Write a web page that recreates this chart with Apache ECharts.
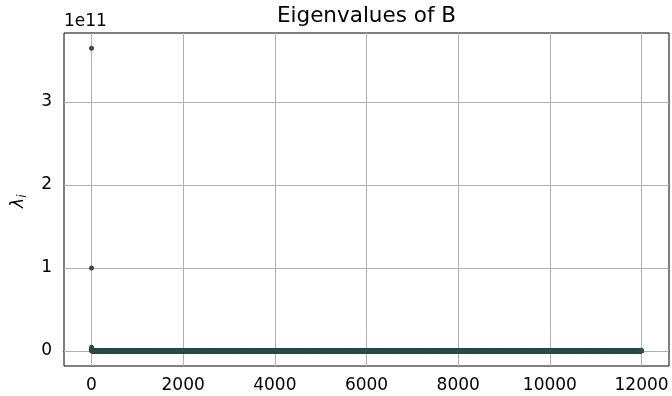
<!DOCTYPE html>
<html>
<head>
<meta charset="utf-8">
<script src="https://cdn.jsdelivr.net/npm/echarts@6/dist/echarts.min.js"></script>
<style>
  html, body { margin: 0; padding: 0; background: #fff; }
  #chart { width: 672px; height: 396px; }
</style>
</head>
<body>
<div id="chart"></div>
<script>
// Largest eigenvalues, in index order; every later eigenvalue sits at ~0 on this scale
const leadingEigenvalues = [3.65e11, 1.0e11, 4.5e9, 2.2e9, 1.5e9, 1.1e9, 8.0e8, 6.0e8];
const eigenvalueCount = 12000;
const trailingEigenvalue = 0;

// Axis ticks and limits
const xTicks = [0, 2000, 4000, 6000, 8000, 10000, 12000];
const yTicks = [0, 1e11, 2e11, 3e11];
const xLimits = [-600, 12599];
const yLimits = [-0.1825e11, 3.8325e11];
const yScaleExponent = 11;

const points = [];
for (let i = 0; i < eigenvalueCount; i++) {
  const v = i < leadingEigenvalues.length ? leadingEigenvalues[i] : trailingEigenvalue;
  points.push([i, v]);
}

const font = 'DejaVu Sans';
const gridColor = '#b0b0b0';

const chart = echarts.init(document.getElementById('chart'), null, { renderer: 'canvas' });

chart.setOption({
  animation: false,
  backgroundColor: '#fff',
  grid: {
    left: 64, right: 3, top: 33, bottom: 30,
    show: true, borderColor: '#000', borderWidth: 1, backgroundColor: 'transparent'
  },
  xAxis: {
    type: 'value',
    min: xLimits[0], max: xLimits[1],
    axisLine: { show: true, lineStyle: { color: '#000', width: 1 } },
    axisTick: { show: true, customValues: xTicks, length: 5, lineStyle: { color: '#000', width: 1 } },
    axisLabel: {
      customValues: xTicks, margin: 11,
      fontFamily: font, fontSize: 17, color: '#000',
      formatter: v => String(v)
    },
    splitLine: { show: false }
  },
  yAxis: {
    type: 'value',
    min: yLimits[0], max: yLimits[1],
    axisLine: { show: true, lineStyle: { color: '#000', width: 1 } },
    axisTick: { show: true, customValues: yTicks, length: 5, lineStyle: { color: '#000', width: 1 } },
    axisLabel: {
      customValues: yTicks, margin: 12,
      fontFamily: font, fontSize: 17, color: '#000',
      formatter: v => String(Math.round(v / Math.pow(10, yScaleExponent)))
    },
    splitLine: { show: false }
  },
  graphic: [
    {
      type: 'text', x: 366.5, y: 16,
      style: {
        text: 'Eigenvalues of B',
        fontFamily: font, fontSize: 21.5, fill: '#000',
        textAlign: 'center', textVerticalAlign: 'middle'
      }
    },
    {
      type: 'text', x: 64, y: 22,
      style: {
        text: '1e' + yScaleExponent,
        fontFamily: font, fontSize: 17, fill: '#000',
        textAlign: 'left', textVerticalAlign: 'middle'
      }
    },
    {
      type: 'group', x: 19, y: 200, rotation: Math.PI / 2,
      children: [
        {
          type: 'text', x: -3, y: 0,
          style: {
            text: 'λ',
            fontFamily: font, fontStyle: 'italic', fontSize: 17, fill: '#000',
            textAlign: 'center', textVerticalAlign: 'middle'
          }
        },
        {
          type: 'text', x: 4, y: 4,
          style: {
            text: 'i',
            fontFamily: font, fontStyle: 'italic', fontSize: 12, fill: '#000',
            textAlign: 'center', textVerticalAlign: 'middle'
          }
        }
      ]
    }
  ],
  series: [
    {
      // carrier for the grid lines
      type: 'line',
      data: [],
      silent: true,
      markLine: {
        silent: true,
        animation: false,
        symbol: ['none', 'none'],
        label: { show: false },
        lineStyle: { color: gridColor, type: 'solid', width: 1 },
        data: xTicks.map(v => ({ xAxis: v })).concat(yTicks.map(v => ({ yAxis: v })))
      }
    },
    {
      type: 'scatter',
      data: points,
      zlevel: 1,
      symbol: 'circle',
      symbolSize: 5,
      itemStyle: { color: '#2f4f4f', opacity: 1 },
      progressive: 0,
      large: false,
      silent: true
    }
  ]
});
</script>
</body>
</html>
